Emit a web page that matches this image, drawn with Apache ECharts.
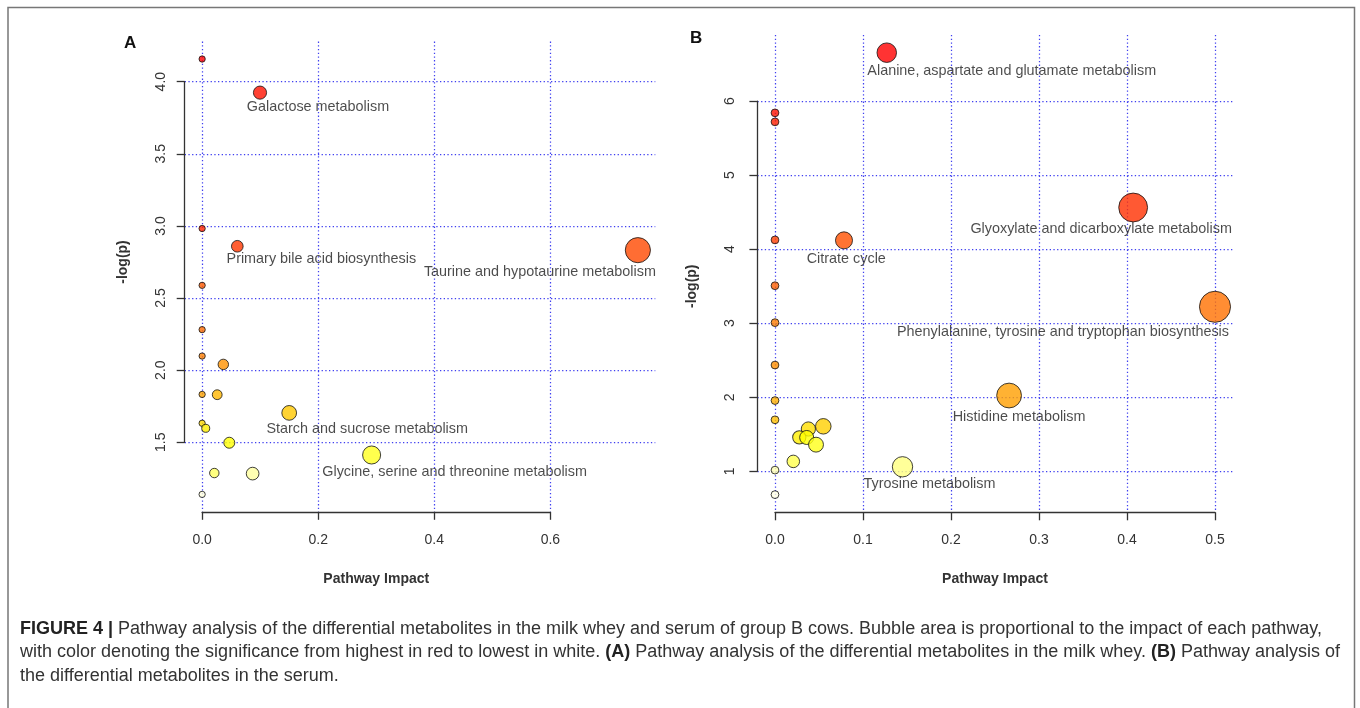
<!DOCTYPE html>
<html><head><meta charset="utf-8">
<script src="https://cdn.jsdelivr.net/npm/echarts@6/dist/echarts.min.js"></script>
<style>html,body{margin:0;padding:0;background:#fff}#c{width:1360px;height:708px}</style>
</head><body><div id="c"></div>
<script>
// ---------- Panel A (milk whey) ----------
const impactA = [0, 0.0997, 0, 0.0606, 0.7507, 0, 0, 0, 0.0365, 0, 0.026, 0.150, 0, 0.0062, 0.0468, 0.292, 0.021, 0.087, 0];
const logpA   = [4.157, 3.924, 2.982, 2.859, 2.832, 2.588, 2.281, 2.098, 2.040, 1.832, 1.830, 1.704, 1.632, 1.597, 1.497, 1.412, 1.287, 1.283, 1.139];
const namesA  = ['', 'Galactose metabolism', '', 'Primary bile acid biosynthesis', 'Taurine and hypotaurine metabolism', '', '', '', '', '', '', 'Starch and sucrose metabolism', '', '', '', 'Glycine, serine and threonine metabolism', '', '', ''];
const xTicksA = [0, 0.6, 0.2];   // min, max, interval
const yTicksA = [1.5, 4.0, 0.5];

// ---------- Panel B (serum) ----------
const impactB = [0.127, 0, 0, 0.407, 0, 0.0784, 0, 0.500, 0, 0, 0.266, 0, 0, 0.0549, 0.0379, 0.0276, 0.036, 0.0466, 0.0208, 0.1449, 0, 0];
const logpB   = [6.656, 5.843, 5.721, 4.564, 4.126, 4.120, 3.507, 3.222, 3.008, 2.435, 2.023, 1.955, 1.695, 1.607, 1.571, 1.458, 1.456, 1.359, 1.133, 1.060, 1.015, 0.684];
const namesB  = ['Alanine, aspartate and glutamate metabolism', '', '', 'Glyoxylate and dicarboxylate metabolism', '', 'Citrate cycle', '', 'Phenylalanine, tyrosine and tryptophan biosynthesis', '', '', 'Histidine metabolism', '', '', '', '', '', '', '', '', 'Tyrosine metabolism', '', ''];
const xTicksB = [0, 0.5, 0.1];
const yTicksB = [1, 6, 1];

// label placement (offset of label centre from bubble centre, px)
const labelOffsets = {
  'Galactose metabolism': [58, 14],
  'Primary bile acid biosynthesis': [84, 12.5],
  'Taurine and hypotaurine metabolism': [-98, 21.5],
  'Starch and sucrose metabolism': [78, 16.5],
  'Glycine, serine and threonine metabolism': [83, 17.3],
  'Alanine, aspartate and glutamate metabolism': [125, 18.4],
  'Glyoxylate and dicarboxylate metabolism': [-32, 21.6],
  'Citrate cycle': [2.3, 18.3],
  'Phenylalanine, tyrosine and tryptophan biosynthesis': [-152, 25],
  'Histidine metabolism': [10, 21.7],
  'Tyrosine metabolism': [27, 17.7]
};

const FONT = '"Liberation Sans", Arial, Helvetica, sans-serif';

function hsv2hex(h, s, v) {
  const i = Math.floor(h * 6), f = h * 6 - i;
  const p = v * (1 - s), q = v * (1 - f * s), t = v * (1 - (1 - f) * s);
  let r, g, b;
  switch (i % 6) {
    case 0: r = v; g = t; b = p; break;
    case 1: r = q; g = v; b = p; break;
    case 2: r = p; g = v; b = t; break;
    case 3: r = p; g = q; b = v; break;
    case 4: r = t; g = p; b = v; break;
    default: r = v; g = p; b = q;
  }
  const hx = x => Math.round(x * 255).toString(16).padStart(2, '0');
  return '#' + hx(r) + hx(g) + hx(b);
}
// R's heat.colors(n)
function heatColors(n) {
  const j = Math.floor(n / 4), i = n - j, out = [];
  for (let k = 0; k < i; k++) out.push(hsv2hex(i > 1 ? (k / (i - 1)) / 6 : 0, 1, 1));
  const s0 = 1 - 1 / (2 * j), s1 = 1 / (2 * j);
  for (let k = 0; k < j; k++) out.push(hsv2hex(1 / 6, j > 1 ? s0 + (s1 - s0) * k / (j - 1) : s0, 1));
  return out;
}
function padRange(arr) {
  const mn = Math.min(...arr), mx = Math.max(...arr), r = mx - mn;
  return [mn - 0.04 * r, mx + 0.04 * r];
}

const chart = echarts.init(document.getElementById('c'), null, { renderer: 'canvas' });

const grids = [], xAxes = [], yAxes = [], series = [];
const gridLine = () => ({ show: true, lineStyle: { color: '#4040f0', width: 1.25, type: [1.3, 2.4] } });
const axisLineStyle = () => ({ show: true, lineStyle: { color: '#333', width: 1.3 } });
const tickStyle = () => ({ show: true, length: 8, inside: false, lineStyle: { color: '#333', width: 1.3 } });

function panel(impact, logp, names, xt, yt, box, yLabelMargin, yNameGap) {
  const xl = padRange(impact), yl = padRange(logp);
  const pxX = box.w / (xl[1] - xl[0]), pxY = box.h / (yl[1] - yl[0]);
  const g0 = grids.length;
  // data grid
  grids.push({ left: box.l, top: box.t, width: box.w, height: box.h });
  // x tick grid
  grids.push({ left: box.l + (xt[0] - xl[0]) * pxX, width: (xt[1] - xt[0]) * pxX, top: box.t, height: box.h });
  // y tick grid
  grids.push({ left: box.l, width: box.w, top: box.t + (yl[1] - yt[1]) * pxY, height: (yt[1] - yt[0]) * pxY });

  xAxes.push({ gridIndex: g0, type: 'value', min: xl[0], max: xl[1], show: false });
  yAxes.push({ gridIndex: g0, type: 'value', min: yl[0], max: yl[1], show: false });

  xAxes.push({
    gridIndex: g0 + 1, type: 'value', min: xt[0], max: xt[1], interval: xt[2], position: 'bottom',
    axisLine: axisLineStyle(), axisTick: tickStyle(),
    axisLabel: { margin: 21, fontSize: 14, color: '#333', fontFamily: FONT, formatter: v => v.toFixed(1) },
    splitLine: gridLine(),
    name: 'Pathway Impact', nameLocation: 'middle', nameGap: 60,
    nameTextStyle: { fontSize: 14, fontWeight: 'bold', color: '#333', fontFamily: FONT }
  });
  yAxes.push({ gridIndex: g0 + 1, type: 'value', min: 0, max: 1, show: false });

  xAxes.push({ gridIndex: g0 + 2, type: 'value', min: 0, max: 1, show: false });
  yAxes.push({
    gridIndex: g0 + 2, type: 'value', min: yt[0], max: yt[1], interval: yt[2], position: 'left',
    axisLine: axisLineStyle(), axisTick: tickStyle(),
    axisLabel: { margin: yLabelMargin, fontSize: 14, color: '#333', fontFamily: FONT, rotate: 90,
      formatter: v => (yt[2] < 1 ? v.toFixed(1) : String(Math.round(v))) },
    splitLine: gridLine(),
    name: '-log(p)', nameLocation: 'middle', nameGap: yNameGap, nameRotate: 90,
    nameTextStyle: { fontSize: 14, fontWeight: 'bold', color: '#333', fontFamily: FONT }
  });

  // colours by significance rank (R heat.colors), bubble radius from sqrt(impact)
  const n = logp.length;
  const order = logp.map((v, i) => i).sort((a, b) => logp[b] - logp[a] || a - b);
  const cols = heatColors(n), colOf = [];
  order.forEach((idx, r) => { colOf[idx] = cols[r]; });
  const sqMax = Math.sqrt(Math.max(...impact));
  const minR = sqMax / 160, maxR = sqMax / 40;
  const radius = x => (minR + (maxR - minR) * Math.sqrt(x) / sqMax) * pxX;

  series.push({
    type: 'scatter', xAxisIndex: xAxes.length - 3, yAxisIndex: yAxes.length - 3, clip: false,
    symbol: 'circle',
    symbolSize: v => 2 * radius(v[0]),
    data: order.map(i => ({
      value: [impact[i], logp[i]],
      itemStyle: { color: colOf[i], borderColor: '#111', borderWidth: 1 },
      label: names[i] ? {
        show: true, formatter: names[i], position: 'inside', offset: labelOffsets[names[i]],
        align: 'center', verticalAlign: 'middle', fontSize: 14.4, color: '#1e1e1e', fontFamily: FONT
      } : { show: false }
    })),
    emphasis: { disabled: true },
    z: 5
  });
}

panel(impactA, logpA, namesA, xTicksA, yTicksA, { l: 184.7, t: 41.6, w: 470.6, h: 470.2 }, 17, 55);
panel(impactB, logpB, namesB, xTicksB, yTicksB, { l: 757.4, t: 35.0, w: 475.2, h: 477.3 }, 20, 58);

const CAP = 18;
const capStyle = () => ({ fontSize: CAP, fontFamily: FONT, fill: '#333', rich: { b: { fontWeight: 'bold', fontSize: CAP, fontFamily: FONT, fill: '#222' } } });
const caption = [
  '{b|FIGURE 4 |} Pathway analysis of the differential metabolites in the milk whey and serum of group B cows. Bubble area is proportional to the impact of each pathway,',
  'with color denoting the significance from highest in red to lowest in white. {b|(A)} Pathway analysis of the differential metabolites in the milk whey. {b|(B)} Pathway analysis of',
  'the differential metabolites in the serum.'
];

chart.setOption({
  backgroundColor: '#fff',
  animation: false,
  grid: grids, xAxis: xAxes, yAxis: yAxes, series: series,
  graphic: [
    { type: 'rect', shape: { x: 8, y: 7.5, width: 1346.5, height: 720 }, style: { fill: 'none', stroke: '#777', lineWidth: 1.5 }, silent: true },
    { type: 'text', left: 124, top: 35, style: { text: 'A', fontSize: 17, fontWeight: 'bold', fontFamily: FONT, fill: '#111' } },
    { type: 'text', left: 690, top: 30, style: { text: 'B', fontSize: 17, fontWeight: 'bold', fontFamily: FONT, fill: '#111' } },
    ...caption.map((t, i) => ({ type: 'text', left: 20, top: 620 + i * 23.5, style: Object.assign({ text: t }, capStyle()) }))
  ]
});
</script></body></html>
